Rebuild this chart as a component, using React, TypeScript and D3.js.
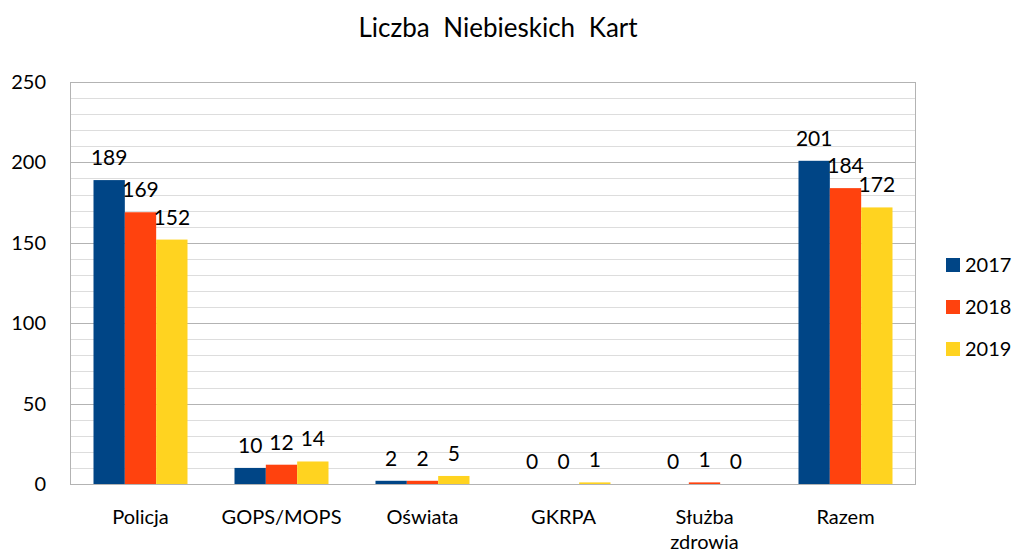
import React, { useEffect, useRef } from "react";
import * as d3 from "d3";

const categories = ["Policja", "GOPS/MOPS", "Oświata", "GKRPA", "Służba\nzdrowia", "Razem"];
const years = ["2017", "2018", "2019"];
const values2017 = [189, 10, 2, 0, 0, 201];
const values2018 = [169, 12, 2, 0, 1, 184];
const values2019 = [152, 14, 5, 1, 0, 172];
const yTicks = [0, 50, 100, 150, 200, 250];
const colors = ["#004586", "#ff420e", "#ffd320"];

const FONT = "Lato, 'Open Sans', sans-serif";

export default function App() {
  const svgRef = useRef<SVGSVGElement | null>(null);

  useEffect(() => {
    const width = 1016;
    const height = 553;
    const margin = { top: 82, right: 100, bottom: 69, left: 70 };
    const chartWidth = width - margin.left - margin.right;
    const chartHeight = height - margin.top - margin.bottom;

    const svg = d3.select(svgRef.current).attr("width", width).attr("height", height);
    svg.selectAll("*").remove();

    svg
      .append("text")
      .attr("x", 498)
      .attr("y", 37)
      .attr("text-anchor", "middle")
      .style("font-family", FONT)
      .style("font-size", "26px")
      .style("word-spacing", "7px")
      .style("fill", "#000")
      .text("Liczba Niebieskich Kart");

    const chart = svg.append("g").attr("transform", `translate(${margin.left},${margin.top})`);

    const series = [values2017, values2018, values2019];
    const data = categories.map((c, i) => ({ cat: c, vals: series.map((s) => s[i]) }));

    const x0 = d3.scaleBand().domain(categories).range([0, chartWidth]).paddingInner(0).paddingOuter(0);
    const groupW = (x0.bandwidth() * 2) / 3;
    const x1 = d3.scaleBand().domain(years).range([0, groupW]).padding(0);

    const y = d3.scaleLinear().domain([0, 250]).range([chartHeight, 0]);

    // linie siatki co 10
    const minor = d3.range(0, 251, 10);
    chart
      .selectAll("line.grid")
      .data(minor)
      .enter()
      .append("line")
      .attr("x1", 0)
      .attr("x2", chartWidth)
      .attr("y1", (d) => Math.round(y(d)) + 0.5)
      .attr("y2", (d) => Math.round(y(d)) + 0.5)
      .attr("stroke", (d) => (d % 50 === 0 ? "#b3b3b3" : "#dddddd"))
      .attr("stroke-width", 1);

    // ramka obszaru wykresu
    chart
      .append("rect")
      .attr("x", 0.5)
      .attr("y", 0.5)
      .attr("width", chartWidth - 1)
      .attr("height", chartHeight)
      .attr("fill", "none")
      .attr("stroke", "#b3b3b3");

    const groups = chart
      .selectAll("g.grp")
      .data(data)
      .enter()
      .append("g")
      .attr("class", "grp")
      .attr("transform", (d) => `translate(${(x0(d.cat) as number) + (x0.bandwidth() - groupW) / 2},0)`);

    groups
      .selectAll("rect")
      .data((d) => d.vals.map((v, j) => ({ v, year: years[j], j })))
      .enter()
      .append("rect")
      .attr("x", (d) => x1(d.year) as number)
      .attr("y", (d) => y(d.v))
      .attr("width", x1.bandwidth())
      .attr("height", (d) => chartHeight - y(d.v))
      .attr("fill", (d) => colors[d.j]);

    groups
      .selectAll("text")
      .data((d) => d.vals.map((v, j) => ({ v, year: years[j], j })))
      .enter()
      .append("text")
      .attr("x", (d) => (x1(d.year) as number) + x1.bandwidth() / 2)
      .attr("y", (d) => y(d.v) - 15)
      .attr("text-anchor", "middle")
      .style("font-family", FONT)
      .style("font-size", "21px")
      .style("fill", "#000")
      .text((d) => d.v);

    // etykiety osi Y
    chart
      .selectAll("text.ytick")
      .data(yTicks)
      .enter()
      .append("text")
      .attr("class", "ytick")
      .attr("x", -24)
      .attr("y", (d) => y(d))
      .attr("dy", "0.35em")
      .attr("text-anchor", "end")
      .style("font-family", FONT)
      .style("font-size", "20px")
      .style("fill", "#000")
      .text((d) => d);

    // etykiety kategorii
    const catLabels = chart
      .selectAll("text.cat")
      .data(categories)
      .enter()
      .append("text")
      .attr("class", "cat")
      .attr("x", (d) => (x0(d) as number) + x0.bandwidth() / 2)
      .attr("y", chartHeight + 40)
      .attr("text-anchor", "middle")
      .style("font-family", FONT)
      .style("font-size", "20px")
      .style("fill", "#000");
    catLabels
      .selectAll("tspan")
      .data((d) => d.split("\n").map((t) => ({ t, parent: d })))
      .enter()
      .append("tspan")
      .attr("x", (d) => (x0(d.parent) as number) + x0.bandwidth() / 2)
      .attr("dy", (_d, i) => (i === 0 ? 0 : 25))
      .text((d) => d.t);

    // legenda
    const legend = svg
      .append("g")
      .selectAll("g")
      .data(years)
      .enter()
      .append("g")
      .attr("transform", (_d, i) => `translate(946,${265 + i * 42})`);
    legend
      .append("rect")
      .attr("x", 0)
      .attr("y", -7)
      .attr("width", 14)
      .attr("height", 14)
      .attr("fill", (_d, i) => colors[i]);
    legend
      .append("text")
      .attr("x", 19)
      .attr("y", 0)
      .attr("dy", "0.35em")
      .style("font-family", FONT)
      .style("font-size", "20px")
      .style("fill", "#000")
      .text((d) => d);
  }, []);

  return (
    <svg
      ref={svgRef}
      style={{ position: "absolute", left: 0, top: 0, background: "#fff" }}
    ></svg>
  );
}
